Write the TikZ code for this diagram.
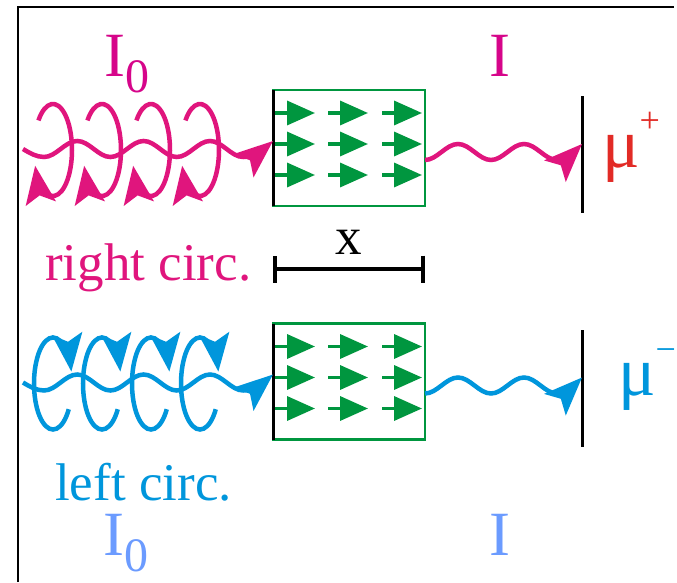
\documentclass[tikz,border=0pt]{standalone}
\usepackage{fontspec}
\setmainfont{Liberation Serif}
\usetikzlibrary{arrows.meta}
\definecolor{rubine}{HTML}{E0157D}
\definecolor{plum}{HTML}{D6058A}
\definecolor{murred}{HTML}{E22B26}
\definecolor{sky}{HTML}{0096DC}
\definecolor{paleblue}{HTML}{6B9BFF}
\definecolor{field}{HTML}{00963F}
\tikzset{
  sample/.style={draw=field,line width=2.5pt,minimum width=152pt,minimum height=116pt,inner sep=0pt,outer sep=0pt},
  detector/.style={minimum width=0pt,minimum height=117pt,inner sep=0pt,outer sep=0pt},
  rim/.style={draw=black,line width=3pt},
  fieldarr/.style={draw=field,line width=3.5pt,-{Triangle[length=28pt,width=24pt]}},
  wave/.style={line width=4.5pt,-{Stealth[length=38pt,width=30pt,inset=8pt]}},
  lab/.style={inner sep=0pt,anchor=base west,font=\fontsize{53}{53}\selectfont},
  capital/.style={inner sep=0pt,anchor=base west,font=\fontsize{63}{63}\selectfont},
  mu/.style={inner sep=0pt,anchor=base west,font=\fontsize{70}{70}\selectfont},
}
\newcommand{\subnull}{\raisebox{-16pt}{\fontsize{48}{48}\selectfont 0}}

\begin{document}
\begin{tikzpicture}[x=1pt,y=1pt]
\fill[white] (0,0) rectangle (677,582);
\useasboundingbox (0,0) rectangle (677,582);
% frame edges
\draw[line width=2.5pt] (18,0) -- (18,575) -- (674,575);

\foreach \n/\yc/\col/\sa/\ea in {1/434/rubine/140/-160, 2/200.5/sky/-34/-345} {
  \node[sample] (b\n) at (349,\yc) {};
  \node[detector] (d\n) at (582,\yc-7) {};
  % magnetisation arrows
  \foreach \dy in {35,4,-27}
    \foreach \dx in {2,55,109}
      \draw[fieldarr] ([shift={(\dx,\dy)}]b\n.west) -- ++(40,0);
  \draw[rim] (b\n.north west) -- (b\n.south west);
  \draw[rim] (d\n.north) -- (d\n.south);
  % helix loops
  \foreach \cx in {53,102,151,200}
    \draw[wave,\col] (\cx,\yc-2) ++(\sa:19 and 46)
      arc[start angle=\sa,end angle=\ea,x radius=19,y radius=46];
  % incoming and transmitted waves
  \coordinate (s\n) at (23,\yc-1);
  \draw[wave,\col] (s\n) sin ++(21,-8)
    \foreach \k in {1,2,3} { cos ++(16.6,8) sin ++(16.6,8) cos ++(16.6,-8) sin ++(16.6,-8) }
    cos ([yshift=7pt]b\n.west);
  \draw[wave,\col] ([yshift=-12pt]b\n.east)
    \foreach \k in {1,2} { cos ++(16.5,8) sin ++(16.5,8) cos ++(16.5,-8) sin ++(16.5,-8) }
    cos ([yshift=11pt]d\n.center);
}

% thickness bar
\draw[rim,line width=4pt,{Bar[width=27pt]}-{Bar[width=27pt]}]
  ([yshift=-63pt]b1.south west) -- node[lab,anchor=base,yshift=15pt] (xlab) {x}
  ([yshift=-63pt]b1.south east);

\node[capital,plum] (itop0) at (104,505) {I\subnull};
\node[capital,plum] (itop) at (489,505) {I};
\node[lab,rubine] (rc) at (45,302) {right circ.};
\node[mu,murred] (mup) at (602,414) {μ\raisebox{35pt}{\fontsize{36}{36}\selectfont +}};

\node[lab,sky] (lc) at (55,82) {left circ.};
\node[capital,paleblue] (ibot0) at (103,27) {I\subnull};
\node[capital,paleblue] (ibot) at (489,27) {I};
\node[mu,sky] (mum) at (618,187) {μ\raisebox{34pt}{\fontsize{36}{36}\selectfont −}};
\end{tikzpicture}
\end{document}
